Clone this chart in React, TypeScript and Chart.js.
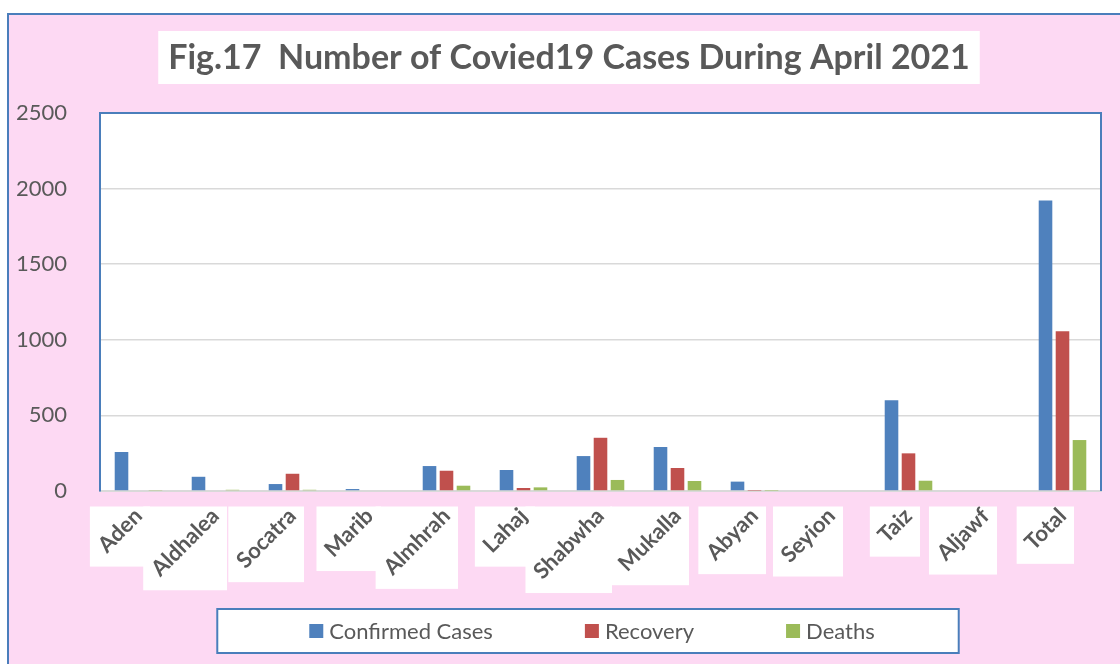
import React, { useEffect, useRef } from "react";
import { Chart, registerables } from "chart.js";

Chart.register(...registerables);

const categories = ["Aden", "Aldhalea", "Socatra", "Marib", "Almhrah", "Lahaj", "Shabwha", "Mukalla", "Abyan", "Seyion", "Taiz", "Aljawf", "Total"];
const confirmedCases = [258, 94, 46, 13, 165, 139, 231, 291, 62, 0, 601, 0, 1922];
const recovery = [0, 0, 114, 0, 134, 20, 352, 152, 2, 0, 249, 0, 1057];
const deaths = [3, 8, 8, 0, 35, 24, 73, 66, 2, 0, 68, 0, 337];
const yTicks = [0, 500, 1000, 1500, 2000, 2500];
const seriesNames = ["Confirmed Cases", "Recovery", "Deaths"];
const titleText = "Fig.17  Number of Covied19 Cases During April 2021";

const BLUE = "#4F81BD";
const RED = "#C0504D";
const GREEN = "#9BBB59";
const TEXT = "#595959";
const BORDER = "#4A7EBB";
const PINK = "#FDD9F3";
const FONT = "Lato";
const TITLE_SIZE = 34;
const TITLE_CX = 569;
const TITLE_CY = 57.5;
const XLABEL_SIZE = 22;
const LEGEND_SIZE = 22;

const decorPlugin = {
  id: "decor",
  beforeDraw(chart: any) {
    const { ctx, chartArea: a } = chart;
    ctx.save();
    // plot area background
    ctx.fillStyle = "#ffffff";
    ctx.fillRect(a.left, a.top, a.right - a.left, a.bottom - a.top);
    // title box + title
    ctx.font = `bold ${TITLE_SIZE}px ${FONT}`;
    const tw = ctx.measureText(titleText).width;
    ctx.fillRect(TITLE_CX - tw / 2 - 10, TITLE_CY - 26.5, tw + 20, 53);
    ctx.fillStyle = TEXT;
    ctx.textAlign = "center";
    ctx.textBaseline = "middle";
    ctx.fillText(titleText, TITLE_CX, TITLE_CY + 1);
    // white boxes behind category labels
    ctx.fillStyle = "#ffffff";
    const xs = chart.scales.x;
    ctx.font = `bold ${XLABEL_SIZE}px ${FONT}`;
    categories.forEach((c, i) => {
      const px = xs.getPixelForTick(i);
      const w = ctx.measureText(c).width;
      const s = (w + XLABEL_SIZE) / Math.SQRT2 + 8;
      ctx.fillRect(px + 11.5 - s, a.bottom + 15.5, s, s);
    });
    ctx.restore();
  },
  afterDraw(chart: any) {
    const { ctx, chartArea: a } = chart;
    ctx.save();
    // plot border (top, right, left)
    ctx.strokeStyle = BORDER;
    ctx.lineWidth = 2;
    ctx.beginPath();
    ctx.moveTo(a.left, a.bottom);
    ctx.lineTo(a.left, a.top);
    ctx.lineTo(a.right, a.top);
    ctx.lineTo(a.right, a.bottom);
    ctx.stroke();
    // legend
    ctx.font = `${LEGEND_SIZE}px ${FONT}`;
    const ds = chart.data.datasets;
    const sq = 14, gap = 6, spacing = 92;
    const widths = ds.map((d: any) => ctx.measureText(d.label).width);
    const itemsW = widths.reduce((s: number, w: number) => s + sq + gap + w, 0) + spacing * (ds.length - 1);
    const cx = (a.left + a.right) / 2 - 8.5;
    const left = cx - itemsW / 2;
    const top = chart.height - 55;
    const h = 44;
    ctx.fillStyle = "#ffffff";
    ctx.fillRect(left - 92, top, itemsW + 176, h);
    ctx.strokeRect(left - 92, top, itemsW + 176, h);
    const cy = top + h / 2;
    let x = left;
    ds.forEach((d: any, i: number) => {
      ctx.fillStyle = d.backgroundColor;
      ctx.fillRect(x, cy - 7, sq, sq);
      ctx.fillStyle = TEXT;
      ctx.textBaseline = "middle";
      ctx.textAlign = "left";
      ctx.fillText(d.label, x + sq + gap, cy + 1);
      x += sq + gap + widths[i] + spacing;
    });
    ctx.restore();
  },
};

export default function App() {
  const ref = useRef<HTMLCanvasElement>(null);
  useEffect(() => {
    const chart = new Chart(ref.current as HTMLCanvasElement, {
      type: "bar",
      data: {
        labels: categories,
        datasets: [
          { label: seriesNames[0], data: confirmedCases, backgroundColor: BLUE },
          { label: seriesNames[1], data: recovery, backgroundColor: RED },
          { label: seriesNames[2], data: deaths, backgroundColor: GREEN },
        ].map((d) => ({ ...d, barPercentage: 0.8, categoryPercentage: 0.662 })),
      },
      options: {
        responsive: false,
        animation: false,
        layout: { padding: { left: 14, right: 19, top: 113, bottom: 73 } },
        plugins: {
          legend: { display: false },
          tooltip: { enabled: false },
          title: { display: false },
        },
        scales: {
          x: {
            grid: { display: false, drawTicks: false },
            border: { display: true, color: "#D9D9D9", width: 2 },
            ticks: {
              autoSkip: false,
              minRotation: 45,
              maxRotation: 45,
              padding: 12,
              color: TEXT,
              font: { family: FONT, size: XLABEL_SIZE, weight: "bold" },
            },
            afterFit: (s: any) => {
              s.height = 100;
            },
          },
          y: {
            min: 0,
            max: 2500,
            grid: { color: "#D9D9D9", drawTicks: false, lineWidth: 1.5 },
            border: { display: true, color: BORDER, width: 2 },
            ticks: {
              padding: 33,
              color: TEXT,
              font: { family: FONT, size: 22 },
              callback: (v: any) => String(v),
            },
            afterBuildTicks: (s: any) => {
              s.ticks = yTicks.map((v) => ({ value: v }));
            },
            afterFit: (s: any) => {
              s.width = 86;
            },
          },
        },
      } as any,
      plugins: [decorPlugin],
    });
    return () => chart.destroy();
  }, []);
  return (
    <div style={{ position: "fixed", left: 0, top: 0, width: 1120, height: 664, overflow: "hidden", background: "#ffffff" }}>
      <div
        style={{
          position: "absolute",
          left: 7,
          top: 13,
          width: 1200,
          height: 700,
          boxSizing: "border-box",
          border: `2px solid ${BORDER}`,
          background: PINK,
        }}
      />
      <canvas ref={ref} width={1120} height={664} style={{ position: "absolute", left: 0, top: 0 }} />
    </div>
  );
}
